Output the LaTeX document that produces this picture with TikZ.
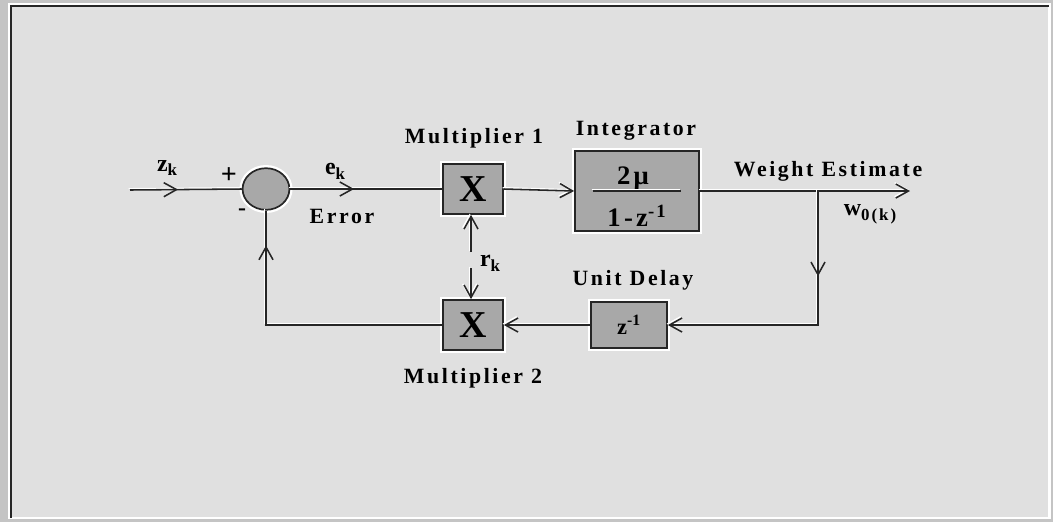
\documentclass[tikz,border=0pt]{standalone}
\usepackage{fontspec}
\setmainfont{Liberation Serif}
\newfontfamily\lblfont[LetterSpace=12]{Liberation Serif}
\usetikzlibrary{arrows.meta,decorations.markings,shapes.geometric}
\definecolor{panel}{HTML}{E0E0E0}
\definecolor{frame}{HTML}{C4C4C4}
\definecolor{blockgray}{HTML}{A8A8A8}
\newcommand{\subtxt}[1]{\raisebox{-0.45ex}{\fontsize{12}{12}\selectfont #1}}

\begin{document}
\begin{tikzpicture}[x=0.025cm,y=-0.025cm,
        blk/.style={draw=black!85,fill=blockgray,line width=1.2pt,inner sep=0pt,preaction={draw=white,line width=4pt}},
        sum/.style={ellipse,draw=black!85,fill=blockgray,line width=1.2pt,minimum width=1.17cm,minimum height=1.04cm,preaction={draw=white,line width=4.5pt}},
        lbl/.style={font=\lblfont\bfseries\fontsize{15.5}{17}\selectfont},
        var/.style={font=\lblfont\bfseries\fontsize{17}{18}\selectfont},
        sig/.style={font=\lblfont\bfseries\fontsize{19}{20}\selectfont},
        wire/.style={draw=black!85,line width=1.1pt,preaction={draw=white,line width=1pt,transform canvas={shift={(-0.9pt,0.9pt)}}}},
        tip/.style={-{Straight Barb[length=9pt,width=10pt]}},
        midarrow/.style={postaction={decorate},decoration={markings,mark=at position #1 with {\arrow{Straight Barb[length=9pt,width=10pt]}}}}
      ]
      \useasboundingbox (0,0) rectangle (1053,522);
      % panel
      \fill[frame] (0,0) rectangle (1053,522);
      \draw[white,line width=1.5pt,fill=panel] (9,4) rectangle (1049.5,518);
      \draw[black!85,line width=1.5pt] (11,518) -- (11,6) -- (1049,6);

      % blocks
      \node[sum] (sum) at (266,189) {};
      \node[blk,minimum width=1.5cm,minimum height=1.25cm,font=\bfseries\fontsize{27}{27}\selectfont] (m1) at (473,189) {X};
      \node[blk,minimum width=3.1cm,minimum height=2cm] (int) at (637,191) {};
      \node[blk,minimum width=1.9cm,minimum height=1.15cm,font=\bfseries\fontsize{16}{16}\selectfont] (ud) at (629,325) {z\textsuperscript{-1}};
      \node[blk,minimum width=1.5cm,minimum height=1.25cm,font=\bfseries\fontsize{27}{27}\selectfont] (m2) at (473,325) {X};

      % integrator contents
      \node[sig] (num) at (633,178) {2μ};
      \node[sig] (den) at (637,216) {1-z\textsuperscript{-1}};
      \draw[wire] ([xshift=-1.1cm]int.center) -- ([xshift=1.1cm]int.center);

      % labels
      \node[var] (zlbl) at (167,168) {z\subtxt{k}};
      \node[var,font=\bfseries\fontsize{20}{20}\selectfont] (plus) at (229,176) {+};
      \node[var] (minus) at (242,212) {-};
      \node[var] (elbl) at (335,171) {e\subtxt{k}};
      \node[lbl] (err) at (342,216) {Error};
      \node[lbl] (m1lbl) at (474,138) {Multiplier 1};
      \node[lbl] (intlbl) at (636,131) {Integrator};
      \node[lbl] (wlbl) at (828,171) {Weight Estimate};
      \node[var] (wk) at (870,214) {w\subtxt{0(k)}};
      \node[var] (rk) at (490,263) {r\subtxt{k}};
      \node[lbl] (udlbl) at (633,280) {Unit Delay};
      \node[lbl] (m2lbl) at (473,378) {Multiplier 2};

      % connectors
      \coordinate (zin) at (130,190);
      \coordinate (wout) at (910,191);
      \coordinate (br) at (818,191);
      \coordinate (rup) at (471,252);
      \coordinate (rdn) at (471,268);
      \draw[wire,midarrow=0.43] (zin) -- (sum.west);
      \draw[wire,midarrow=0.42] (sum.east) -- (m1.west);
      \draw[wire,tip] (m1.east) -- (int.west);
      \draw[wire,tip] (int.east) -- (wout);
      \draw[wire,tip,midarrow=0.3] (br) -- (br |- ud.east) -- (ud.east);
      \draw[wire,tip] (ud.west) -- (m2.east);
      \draw[wire,midarrow=0.88] (m2.west) -| (sum.south);
      \draw[wire,tip] (rup) -- (rup |- m1.south);
      \draw[wire,tip] (rdn) -- (rdn |- m2.north);
    \end{tikzpicture}
\end{document}
